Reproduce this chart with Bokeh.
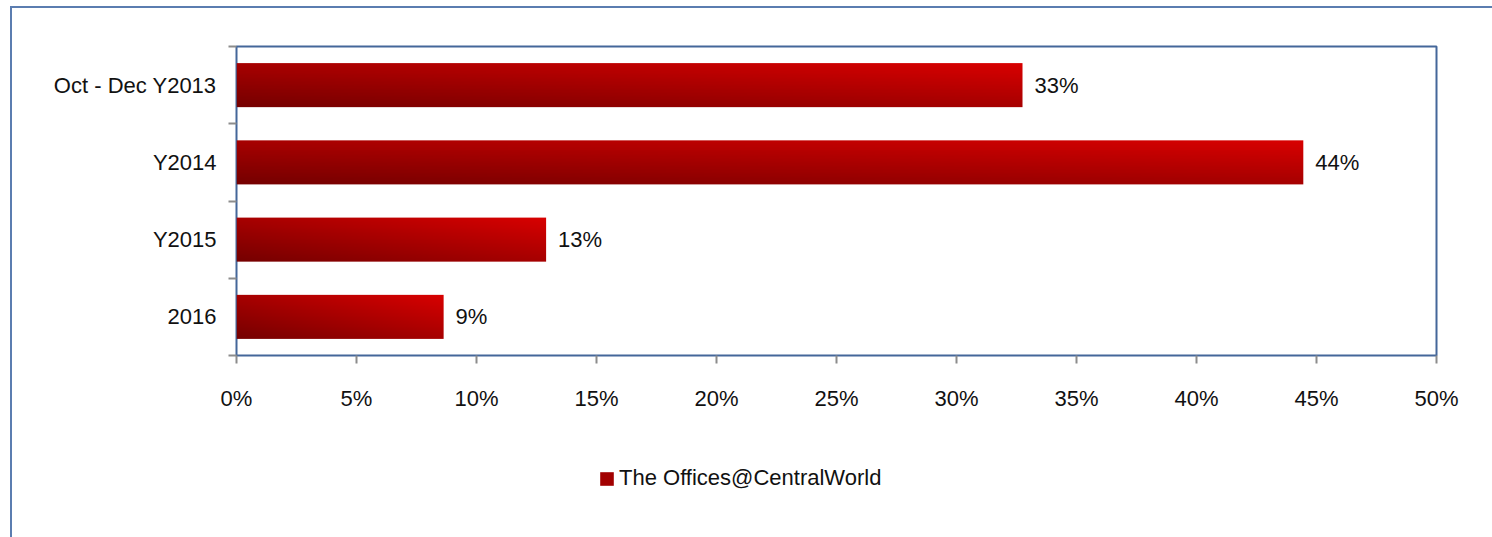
import numpy as np
from bokeh.plotting import figure
from bokeh.layouts import column
from bokeh.models import Range1d, FixedTicker, PrintfTickFormatter, Legend, LegendItem
from bokeh.core.properties import value
from bokeh.embed import file_html
from bokeh.resources import INLINE

# ---- data ----
categories = ["Oct - Dec Y2013", "Y2014", "Y2015", "2016"]   # top to bottom
values = [32.75, 44.45, 12.9, 8.63]                          # percent
labels = ["33%", "44%", "13%", "9%"]
series_name = "The Offices@CentralWorld"
x_ticks = [0, 5, 10, 15, 20, 25, 30, 35, 40, 45, 50]

FONT = "Liberation Sans"
FS = "22px"
BLUE = "#44679A"
GRAY = "#8C8C8C"
TXT = "#111111"

n = len(categories)
centers = [n - 0.5 - i for i in range(n)]   # first category on top
bar_h = 0.57

p = figure(frame_width=1200, frame_height=309,
           min_border_left=224, min_border_right=56,
           min_border_top=38, min_border_bottom=85,
           x_range=Range1d(0, 50), y_range=Range1d(0, n),
           output_backend="svg", toolbar_location=None)
p.grid.visible = False
p.outline_line_color = BLUE
p.outline_line_width = 2
p.background_fill_color = "white"
p.border_fill_color = "white"

# gradient bars (diagonal: dark bottom-left -> bright top-right)
def gradient(nx=256, ny=32):
    u = np.linspace(0, 1, nx)[None, :]
    v = np.linspace(0, 1, ny)[:, None]
    t = 0.5 * u + 0.5 * v
    r = (0x76 + t * (0xD8 - 0x76)).astype(np.uint8)
    img = np.zeros((ny, nx), dtype=np.uint32)
    view = img.view(dtype=np.uint8).reshape((ny, nx, 4))
    view[:, :, 0] = r
    view[:, :, 3] = 255
    return img

p.image_rgba(image=[gradient() for _ in values],
             x=[0] * n, y=[c - bar_h / 2 for c in centers],
             dw=values, dh=[bar_h] * n)

# data labels
p.text(x=values, y=centers, text=labels, x_offset=12,
       text_baseline="middle", text_align="left",
       text_font=value(FONT), text_font_size=FS, text_color=TXT)

# x axis
xa = p.xaxis[0]
xa.ticker = FixedTicker(ticks=x_ticks, minor_ticks=[])
xa.formatter = PrintfTickFormatter(format="%d%%")
xa.axis_line_color = None
xa.major_tick_out = 8
xa.major_tick_in = 0
xa.major_tick_line_color = GRAY
xa.major_tick_line_width = 2
xa.minor_tick_line_color = None
xa.major_label_standoff = 22
xa.major_label_text_font = FONT
xa.major_label_text_font_size = FS
xa.major_label_text_color = TXT

# y axis: labels at category centers, tick marks at boundaries
ya = p.yaxis[0]
ya.ticker = FixedTicker(ticks=centers, minor_ticks=list(range(n + 1)))
ya.major_label_overrides = {c: cat for c, cat in zip(centers, categories)}
ya.axis_line_color = None
ya.major_tick_out = 0
ya.major_tick_in = 0
ya.major_tick_line_color = None
ya.minor_tick_out = 8
ya.minor_tick_in = 0
ya.minor_tick_line_color = GRAY
ya.minor_tick_line_width = 2
ya.major_label_standoff = 12
ya.major_label_text_font = FONT
ya.major_label_text_font_size = FS
ya.major_label_text_color = TXT

# legend strip (separate small figure below the chart, frame aligned with the chart's)
lg = figure(width=1480, height=97, x_range=Range1d(0, 1), y_range=Range1d(0, 1),
            min_border=0, output_backend="svg", toolbar_location=None)
lg.axis.visible = False
lg.grid.visible = False
lg.outline_line_color = None
lg.border_fill_color = "white"
# legend swatch proxy (kept outside the visible range)
proxy = lg.quad(left=[-3], right=[-2], top=[-2], bottom=[-3],
                fill_color="#A20000", line_color=None)
legend = Legend(items=[LegendItem(label=series_name, renderers=[proxy], index=0)],
                location=(362, 46), orientation="horizontal",
                glyph_width=17, glyph_height=17, label_standoff=4,
                padding=0, margin=0, spacing=0,
                border_line_color=None, background_fill_alpha=0,
                label_text_font=FONT, label_text_font_size=FS, label_text_color=TXT)
lg.add_layout(legend, "center")

layout = column(p, lg, spacing=0, margin=(6, 0, 0, 10),
                styles={"border-left": "2px solid #5B7DB0", "border-top": "2px solid #5B7DB0"})

open("out.html", "w").write(file_html(layout, INLINE))
